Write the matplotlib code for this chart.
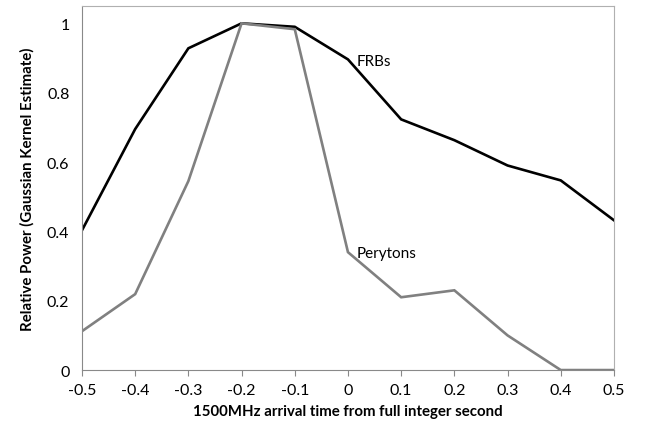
import matplotlib
matplotlib.use("Agg")
import matplotlib.pyplot as plt

plt.rcParams["font.family"] = ["Lato", "DejaVu Sans"]

x = [-0.5, -0.4, -0.3, -0.2, -0.1, 0.0, 0.1, 0.2, 0.3, 0.4, 0.5]
frbs = [0.403, 0.695, 0.928, 1.0, 0.99, 0.896, 0.723, 0.663, 0.59, 0.547, 0.432]
perytons = [0.112, 0.219, 0.545, 1.0, 0.983, 0.340, 0.21, 0.23, 0.10, 0.0, 0.0]

AXIS = "#898989"

fig = plt.figure(figsize=(6.49, 4.27), dpi=100)
ax = fig.add_axes([0.1263, 0.131, 0.8197, 0.8526])

ax.plot(x, frbs, color="black", lw=1.9, solid_joinstyle="miter")
ax.plot(x, perytons, color="#808080", lw=1.9, solid_joinstyle="miter")

ax.text(0.017, 0.89, "FRBs", fontsize=11, va="center", ha="left")
ax.text(0.017, 0.337, "Perytons", fontsize=11, va="center", ha="left")

ax.set_xlim(-0.5, 0.5)
ax.set_ylim(0, 1.05)
ax.set_xticks(x, ["-0.5", "-0.4", "-0.3", "-0.2", "-0.1", "0", "0.1", "0.2", "0.3", "0.4", "0.5"])
ax.set_yticks([0, 0.2, 0.4, 0.6, 0.8, 1.0], ["0", "0.2", "0.4", "0.6", "0.8", "1"])
ax.tick_params(axis="x", length=4, color=AXIS, labelsize=11.5, pad=5)
ax.tick_params(axis="y", length=0, labelsize=11.5, pad=9)
for side in ("left", "bottom"):
    ax.spines[side].set_color(AXIS)
for side in ("top", "right"):
    ax.spines[side].set_color("#b0b0b0")
ax.set_xlabel("1500MHz arrival time from full integer second", fontsize=10.8, fontweight="bold", labelpad=5)
ax.set_ylabel("Relative Power (Gaussian Kernel Estimate)", fontsize=10.8, fontweight="bold", labelpad=9)

fig.savefig("out.png", dpi=100)
